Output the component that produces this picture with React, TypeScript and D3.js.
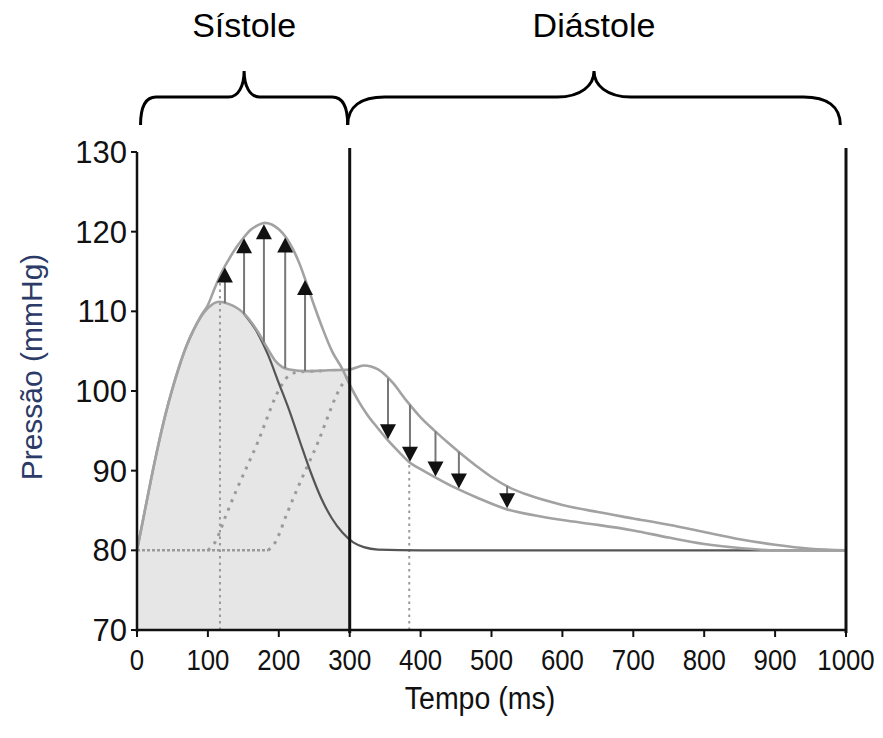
import React from "react";
import * as d3 from "d3";

// ---- data (ms, mmHg) ----
const forwardTime = [0, 10, 20, 30, 40, 50, 60, 70, 80, 90, 100, 115, 130, 150, 170, 185, 200, 215, 230, 245, 260, 275, 290, 305, 320, 340, 400, 600, 800, 1000];
const forwardP = [80, 84.5, 89, 93.2, 97, 100.3, 103.2, 105.7, 107.7, 109.3, 110.4, 111.2, 110.9, 109.8, 107.3, 104.5, 101, 97.5, 93.6, 89.8, 86.5, 84, 82.2, 81, 80.4, 80.1, 80, 80, 80, 80];

const lateTime = [0, 10, 20, 30, 40, 50, 60, 70, 80, 90, 100, 115, 130, 150, 170, 185, 195, 205, 215, 240, 270, 300, 320, 340, 360, 380, 400, 420, 440, 460, 480, 500, 525, 550, 600, 650, 700, 750, 800, 850, 900, 950, 1000];
const lateP = [80, 84.5, 89, 93.2, 97, 100.3, 103.2, 105.7, 107.7, 109.3, 110.4, 111.2, 110.9, 109.8, 107.5, 105.2, 103.8, 103.0, 102.7, 102.5, 102.6, 102.7, 103.2, 102.7, 101.1, 98.8, 96.7, 95, 93.4, 91.9, 90.5, 89.2, 87.9, 87, 85.7, 84.8, 84, 83.2, 82.3, 81.4, 80.7, 80.2, 80];

const earlyTime = [0, 10, 20, 30, 40, 50, 60, 70, 80, 90, 100, 110, 120, 130, 140, 150, 160, 170, 180, 190, 200, 210, 220, 230, 240, 250, 262, 275, 290, 300, 312, 325, 340, 355, 370, 385, 400, 420, 450, 480, 520, 560, 600, 650, 700, 750, 800, 850, 900, 1000];
const earlyP = [80, 84.5, 89, 93.2, 97, 100.3, 103.2, 105.7, 107.7, 109.4, 110.8, 113, 115, 116.6, 118, 119.2, 120.2, 120.8, 121.1, 120.9, 120.3, 119.3, 117.8, 115.8, 113.3, 110.7, 107.8, 105, 102.7, 100.8, 98.8, 97, 95.3, 93.7, 92.3, 91, 90.2, 89.2, 87.8, 86.6, 85.2, 84.4, 83.8, 83.2, 82.5, 81.6, 80.8, 80.3, 80, 80];

const reflEarlyTime = [100, 110, 126, 140, 155, 170, 183, 195, 205, 215, 230, 260];
const reflEarlyP = [80, 81, 84.5, 87.5, 90.5, 93.5, 96.5, 99.2, 100.9, 102, 102.4, 102.5];

const reflLateTime = [185, 195, 211, 225, 240, 255, 268, 280, 290, 300];
const reflLateP = [80, 81, 84.5, 87.5, 90.5, 93.5, 96.5, 99.2, 100.9, 102];

const baselineTime = [0, 185];
const baselineP = [80, 80];

const systolicArrowTimes = [124, 151, 179, 209, 237];
const diastolicArrowTimes = [354, 385, 421, 454, 522];
const guideTimes = [117, 384];

const xTickValues = d3.range(0, 1001, 100);
const yTickValues = d3.range(70, 131, 10);
const phaseLabels = ["Sístole", "Diástole"];
const phaseStart = [5, 300];
const phaseEnd = [300, 992];
const dividerTimes = [300, 1000];

const W = 883;
const H = 738;

export default function App() {
  const x = d3.scaleLinear().domain([0, 1000]).range([137, 846]);
  const y = d3.scaleLinear().domain([70, 130]).range([630, 152]);

  const interp = (t: number[], p: number[]) => d3.scaleLinear().domain(t).range(p).clamp(true);
  const lateAt = interp(lateTime, lateP);
  const earlyAt = interp(earlyTime, earlyP);

  const line = d3
    .line<[number, number]>()
    .x((d) => x(d[0]))
    .y((d) => y(d[1]))
    .curve(d3.curveMonotoneX);

  const zip = (t: number[], p: number[]) => t.map((v, i) => [v, p[i]] as [number, number]);

  const area = d3
    .area<[number, number]>()
    .x((d) => x(d[0]))
    .y0(y(70))
    .y1((d) => y(d[1]))
    .curve(d3.curveMonotoneX);
  const shadeData = zip(lateTime, lateP).filter((d) => d[0] <= 300);

  const forwardDark = zip(forwardTime, forwardP).filter((d) => d[0] >= 150);

  const font = "Liberation Sans, Arial, Helvetica, sans-serif";

  const bracePath = (x0: number, x1: number, yTip: number, yBar: number, yCusp: number) => {
    const w = x1 - x0;
    const r = w * 0.075;
    const m = (x0 + x1) / 2;
    const c1 = yBar + (yTip - yBar) * 0.35;
    const c2 = yBar - (yBar - yCusp) * 0.45;
    return `M${x0},${yTip} C${x0},${c1} ${x0 + r * 0.35},${yBar} ${x0 + r},${yBar} L${m - r},${yBar} C${m - r * 0.35},${yBar} ${m},${c2} ${m},${yCusp} C${m},${c2} ${m + r * 0.35},${yBar} ${m + r},${yBar} L${x1 - r},${yBar} C${x1 - r * 0.35},${yBar} ${x1},${c1} ${x1},${yTip}`;
  };

  const headW = 8;
  const headH = 15;

  return (
    <svg width={W} height={H} style={{ position: "absolute", left: 0, top: 0, background: "#fff" }}>
      {/* shaded systole */}
      <path d={area(shadeData) || ""} fill="#e6e6e6" stroke="none" />

      {/* dotted guides */}
      {guideTimes.map((t, i) => (
        <line
          key={"g" + i}
          x1={x(t)}
          x2={x(t)}
          y1={y(70)}
          y2={y(earlyAt(t))}
          stroke="#9a9a9a"
          strokeWidth={2}
          strokeDasharray="2.5,4"
        />
      ))}
      <path d={line(zip(baselineTime, baselineP)) || ""} fill="none" stroke="#9a9a9a" strokeWidth={2.5} strokeDasharray="3,2" />
      <path d={line(zip(reflEarlyTime, reflEarlyP)) || ""} fill="none" stroke="#9a9a9a" strokeWidth={3} strokeDasharray="3,6" />
      <path d={line(zip(reflLateTime, reflLateP)) || ""} fill="none" stroke="#9a9a9a" strokeWidth={3} strokeDasharray="3,6" />

      {/* forward wave (dark part) */}
      <path d={line(forwardDark) || ""} fill="none" stroke="#555" strokeWidth={2.2} />

      {/* pressure curves */}
      <path d={line(zip(lateTime, lateP)) || ""} fill="none" stroke="#a2a2a2" strokeWidth={2.6} />
      <path d={line(zip(earlyTime, earlyP)) || ""} fill="none" stroke="#a2a2a2" strokeWidth={2.6} />

      {/* systolic arrows (up) */}
      {systolicArrowTimes.map((t, i) => {
        const cx = x(t);
        const yb = y(lateAt(t));
        const yt = y(earlyAt(t)) + 1;
        return (
          <g key={"s" + i}>
            <line x1={cx} x2={cx} y1={yb} y2={yt + headH - 2} stroke="#777" strokeWidth={2} />
            <path d={`M${cx},${yt} L${cx - headW},${yt + headH} L${cx + headW},${yt + headH} Z`} fill="#111" />
          </g>
        );
      })}
      {/* diastolic arrows (down) */}
      {diastolicArrowTimes.map((t, i) => {
        const cx = x(t);
        const yt = y(lateAt(t));
        const yb = y(earlyAt(t)) - 1;
        return (
          <g key={"d" + i}>
            <line x1={cx} x2={cx} y1={yt} y2={yb - headH + 2} stroke="#777" strokeWidth={2} />
            <path d={`M${cx},${yb} L${cx - headW},${yb - headH} L${cx + headW},${yb - headH} Z`} fill="#111" />
          </g>
        );
      })}

      {/* axes */}
      <line x1={x(0)} x2={x(0)} y1={y(130)} y2={y(70) + 2} stroke="#111" strokeWidth={2.5} />
      <line x1={x(0) - 1} x2={x(1000) + 1} y1={y(70)} y2={y(70)} stroke="#111" strokeWidth={2.5} />
      {dividerTimes.map((t, i) => (
        <line key={"v" + i} x1={x(t)} x2={x(t)} y1={y(130) - 4} y2={y(70) + 3} stroke="#111" strokeWidth={3} />
      ))}
      {yTickValues.map((v) => (
        <g key={"yt" + v}>
          <line x1={x(0) - 6} x2={x(0)} y1={y(v)} y2={y(v)} stroke="#111" strokeWidth={2} />
          <text x={x(0) - 10} y={y(v)} dy="0.36em" textAnchor="end" fontFamily={font} fontSize={31} fill="#111">
            {v}
          </text>
        </g>
      ))}
      {xTickValues.map((v) => (
        <g key={"xt" + v}>
          <line x1={x(v)} x2={x(v)} y1={y(70)} y2={y(70) + 7} stroke="#111" strokeWidth={2} />
          <text
            transform={`translate(${x(v)},670) scale(0.86,1)`}
            textAnchor="middle"
            fontFamily={font}
            fontSize={30}
            fill="#111"
          >
            {v}
          </text>
        </g>
      ))}

      {/* axis titles */}
      <text transform="translate(480,709) scale(0.92,1)" textAnchor="middle" fontFamily={font} fontSize={31} fill="#111">
        Tempo (ms)
      </text>
      <text
        transform="translate(42,367) rotate(-90)"
        textAnchor="middle"
        fontFamily={font}
        fontSize={30}
        fill="#2b3a66"
      >
        Pressão (mmHg)
      </text>

      {/* phase braces */}
      {phaseLabels.map((lab, i) => {
        const x0 = x(phaseStart[i]) + (i === 1 ? -2 : 0);
        const x1 = x(phaseEnd[i]) - (i === 0 ? 2 : 0);
        const m = (x0 + x1) / 2;
        return (
          <g key={"p" + i}>
            <path d={bracePath(x0, x1, 125, 97, 71)} fill="none" stroke="#000" strokeWidth={3} />
            <text x={m} y={37} textAnchor="middle" fontFamily={font} fontSize={34} fill="#000">
              {lab}
            </text>
          </g>
        );
      })}
    </svg>
  );
}
